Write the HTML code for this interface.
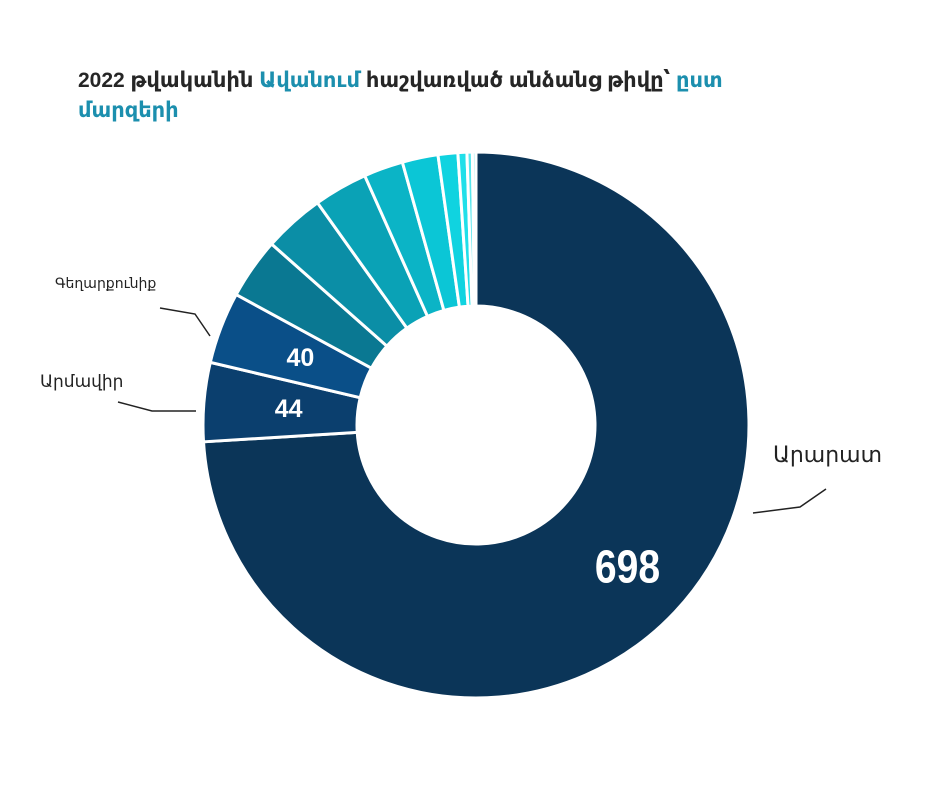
<!DOCTYPE html>
<html><head><meta charset="utf-8">
<style>
body{margin:0;background:#fff;width:940px;height:788px;overflow:hidden;font-family:"Liberation Sans","DejaVu Sans",sans-serif}
.title{position:absolute;left:78px;top:66px;font-size:21px;font-weight:bold;color:#262626;line-height:30px;width:800px}
.t{color:#1c8fae}
</style></head><body>
<div class="title">2022 թվականին <span class="t">Ավանում</span> հաշվառված անձանց թիվը՝ <span class="t">ըստ</span><br><span class="t">մարզերի</span></div>
<svg id="chart" width="940" height="788" style="position:absolute;left:0;top:0"></svg>
<script>
const categories=["Արարատ","Արմավիր","Գեղարքունիք","Կոտայք","Երևան","Շիրակ","Լոռի","Տավուշ","Արագածոտն","Սյունիք","Վայոց ձոր","Այլ"];
const values=[698,44,40,34,34,30,22,20,11,5,3,2];
const valueLabels=["698","44","40"];
const colors=["#0b3558","#0b3f6e","#0a4f88","#0a7892","#0b8ea6","#0aa2b6","#0bb4c6","#0bc6d6","#10d3e0","#20dfe9","#55e6ee","#a8f0f4"];
const svg=document.getElementById('chart');
const NS="http://www.w3.org/2000/svg";
const cx=476,cy=425,R=273,r=119;
const total=values.reduce((a,b)=>a+b,0);
function pt(a,rad){return [cx+rad*Math.sin(a),cy-rad*Math.cos(a)];}
let acc=0;
values.forEach((v,i)=>{
  const a0=acc/total*2*Math.PI;acc+=v;const a1=acc/total*2*Math.PI;
  const lg=(a1-a0)>Math.PI?1:0;
  const [x0,y0]=pt(a0,R),[x1,y1]=pt(a1,R),[x2,y2]=pt(a1,r),[x3,y3]=pt(a0,r);
  const p=document.createElementNS(NS,'path');
  p.setAttribute('d',`M${x0},${y0}A${R},${R} 0 ${lg} 1 ${x1},${y1}L${x2},${y2}A${r},${r} 0 ${lg} 0 ${x3},${y3}Z`);
  p.setAttribute('fill',colors[i]);p.setAttribute('stroke','#fff');p.setAttribute('stroke-width','3');
  
  
  svg.appendChild(p);
  if(i<valueLabels.length){
    const am=(a0+a1)/2;const rr=i==0?(R+r)/2+12:(R+r)/2-8;
    const [tx,ty]=pt(am,rr);
    const t=document.createElementNS(NS,'text');
    t.setAttribute('x',tx);t.setAttribute('y',ty);
    t.setAttribute('text-anchor','middle');t.setAttribute('dominant-baseline','central');
    t.setAttribute('fill','#fff');t.setAttribute('font-weight','bold');
    t.setAttribute('font-family','"Liberation Sans Narrow","Liberation Sans",sans-serif');
    t.setAttribute('font-size',i==0?'46':'25');
    if(i==0)t.setAttribute('transform',`translate(${tx},${ty}) scale(0.85,1) translate(${-tx},${-ty})`);
    t.textContent=valueLabels[i];
    
    
    svg.appendChild(t);
  }
});
const labels=[
 {i:0,x:773,y:462,fs:22,line:"753,513 800,507 826,489"},
 {i:1,x:40,y:387,fs:17,line:"118,402 152,411 196,411"},
 {i:2,x:55,y:288,fs:14,line:"160,308 195,314 210,336"}
];
labels.forEach(l=>{
  const t=document.createElementNS(NS,'text');
  t.setAttribute('x',l.x);t.setAttribute('y',l.y);t.setAttribute('font-size',l.fs);
  t.setAttribute('fill','#222');t.textContent=categories[l.i];
  
  
  svg.appendChild(t);
  const pl=document.createElementNS(NS,'polyline');
  pl.setAttribute('points',l.line);pl.setAttribute('fill','none');pl.setAttribute('stroke','#222');pl.setAttribute('stroke-width','1.5');
  
  
  svg.appendChild(pl);
});
</script>
</body></html>
